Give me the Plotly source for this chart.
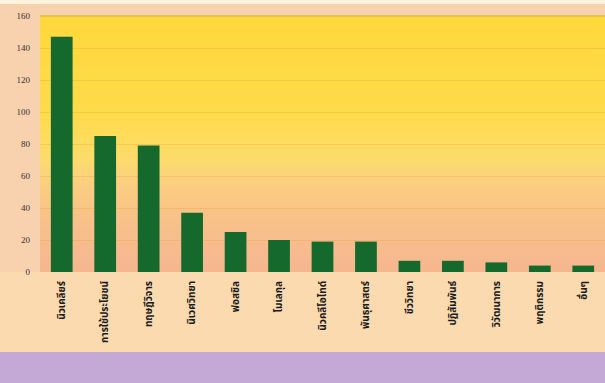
import plotly.graph_objects as go

categories = ["นิวเคลียร์", "การใช้ประโยชน์", "ทฤษฎีวิจาร", "นิเวศวิทยา", "ฟอสซิล",
              "โมเลกุล", "นิวคลีโอไทด์", "พันธุศาสตร์", "ชีววิทยา", "ปฏิสัมพันธ์",
              "วิวัฒนาการ", "พฤติกรรม", "อื่นๆ"]
values = [147, 85, 79, 37, 25, 20, 19, 19, 7, 7, 6, 4, 4]
y_ticks = [0, 20, 40, 60, 80, 100, 120, 140, 160]

W, H = 605, 383
L, R, T, B = 40, 0, 16, 111

fig = go.Figure()
fig.add_trace(go.Bar(
    x=categories, y=values, width=0.5,
    marker=dict(color="#15692C", line=dict(width=0)),
))

def hexmix(c1, c2, t):
    a = [int(c1[i:i+2], 16) for i in (1, 3, 5)]
    b = [int(c2[i:i+2], 16) for i in (1, 3, 5)]
    return "#%02x%02x%02x" % tuple(round(a[k] + (b[k] - a[k]) * t) for k in range(3))

# background gradient stops (paper y within plot area: 0 bottom, 1 top)
stops = [(0.0, "#F6B690"), (0.2, "#F8C189"), (0.36, "#FBD07E"), (0.45, "#FDDC6A"),
         (0.6, "#FEDB4C"), (1.0, "#FFD83B")]
shapes = []
N = 80
for i in range(N):
    y0, y1 = i / N, (i + 1) / N
    ym = (y0 + y1) / 2
    for j in range(len(stops) - 1):
        if stops[j][0] <= ym <= stops[j + 1][0]:
            t = (ym - stops[j][0]) / (stops[j + 1][0] - stops[j][0])
            col = hexmix(stops[j][1], stops[j + 1][1], t)
            break
    shapes.append(dict(type="rect", xref="paper", yref="paper", x0=0, x1=1,
                       y0=y0, y1=y1 + 0.002, fillcolor=col, line=dict(width=0),
                       layer="below"))

ph = H - T - B
def py(pix):
    return (H - B - pix) / ph

# label area below plot
shapes.append(dict(type="rect", xref="paper", yref="paper", x0=-1, x1=1.1,
                   y0=py(352), y1=0, fillcolor="#FBDAB0", line=dict(width=0), layer="below"))
# lavender band at the bottom
shapes.append(dict(type="rect", xref="paper", yref="paper", x0=-1, x1=1.1,
                   y0=py(H + 2), y1=py(352), fillcolor="#C4A8D6", line=dict(width=0), layer="below"))
# top light strip
shapes.append(dict(type="rect", xref="paper", yref="paper", x0=-1, x1=1.1,
                   y0=py(4), y1=py(-2), fillcolor="#FFF3DE", line=dict(width=0), layer="below"))
# top border line of the plot
shapes.append(dict(type="line", xref="paper", yref="paper", x0=0, x1=1,
                   y0=1, y1=1, line=dict(color="#C9B548", width=1)))

fig.update_layout(
    width=W, height=H,
    margin=dict(l=L, r=R, t=T, b=B, pad=0),
    paper_bgcolor="#F8D1AE",
    plot_bgcolor="rgba(0,0,0,0)",
    showlegend=False,
    shapes=shapes,
    xaxis=dict(
        tickangle=-90, showgrid=False, zeroline=False, showline=False,
        ticks="", range=[-0.5, len(categories) - 0.5], ticklabelstandoff=6,
        tickfont=dict(family="Noto Sans Thai, Tahoma, Noto Sans, sans-serif", size=10,
                      color="#1a1a1a", weight="bold"),
    ),
    yaxis=dict(
        range=[0, 160], tickvals=y_ticks, showgrid=True,
        gridcolor="rgba(240,150,50,0.28)", gridwidth=1,
        zeroline=False, showline=False, ticks="",
        ticklabelstandoff=9,
        tickfont=dict(family="Liberation Serif, serif", size=9, color="#3a3030"),
    ),
)

fig.write_html("out.html")
